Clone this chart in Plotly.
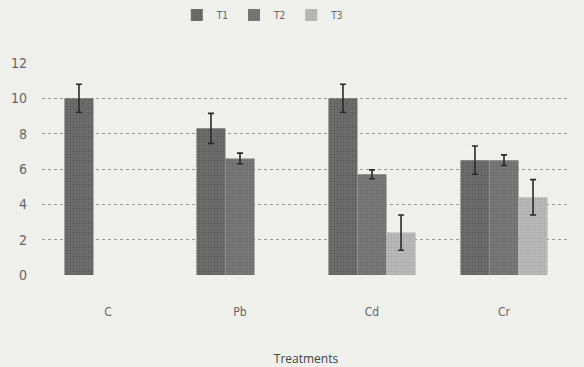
import plotly.graph_objects as go

categories = ["C", "Pb", "Cd", "Cr"]
series_names = ["T1", "T2", "T3"]
t1 = [10.0, 8.3, 10.0, 6.5]
t2 = [None, 6.6, 5.7, 6.5]
t3 = [None, None, 2.4, 4.4]
t1_err = [0.8, 0.85, 0.8, 0.8]
t2_err = [None, 0.3, 0.25, 0.3]
t3_err = [None, None, 1.0, 1.0]
y_ticks = [0, 2, 4, 6, 8, 10, 12]

colors = ["#6e6e6e", "#7a7a7a", "#b9b9b9"]
fgs = ["#4a4a4a", "#555555", "#9a9a9a"]
values = [t1, t2, t3]
errs = [t1_err, t2_err, t3_err]

fig = go.Figure()
for name, v, e, c, fg in zip(series_names, values, errs, colors, fgs):
    fig.add_trace(go.Bar(
        name=name, x=categories, y=v,
        marker=dict(color=c, line=dict(width=0),
                    pattern=dict(shape=".", size=3, solidity=0.35, fgcolor=fg)),
        error_y=dict(type="data", array=e, visible=True,
                     color="#2a2a2a", thickness=1.6, width=3),
    ))

fig.update_layout(
    width=584, height=367,
    barmode="group", bargap=0.34, bargroupgap=0,
    paper_bgcolor="#efefec", plot_bgcolor="#efefec",
    margin=dict(l=42, r=14, t=63, b=92, autoexpand=False),
    font=dict(family="Liberation Sans Narrow, DejaVu Sans Condensed, sans-serif", color="#555555", size=13),
    legend=dict(orientation="h", x=0.45, xanchor="center", y=1 - 15 / 367, yanchor="middle",
                yref="container", xref="container",
                font=dict(size=10, color="#666666"), bgcolor="rgba(0,0,0,0)",
                itemwidth=30, traceorder="normal", tracegroupgap=0),
    xaxis=dict(showgrid=False, showline=False, ticks="", tickfont=dict(size=12, color="#666666"),
               ticklabelstandoff=28,
               title=dict(text="Treatments", font=dict(size=12, color="#444444", family="Open Sans, sans-serif"), standoff=36)),
    yaxis=dict(range=[0, 12], tickvals=y_ticks, showgrid=True, gridcolor="#9a9a9a", griddash="dot",
               gridwidth=1, zeroline=False, showline=False, ticks="", ticklabelstandoff=14,
               tickfont=dict(size=14, color="#666666")),
)

fig.write_html("out.html", config={"displayModeBar": False},
               post_script="document.body.style.margin='0';document.body.style.background='#efefec';")
